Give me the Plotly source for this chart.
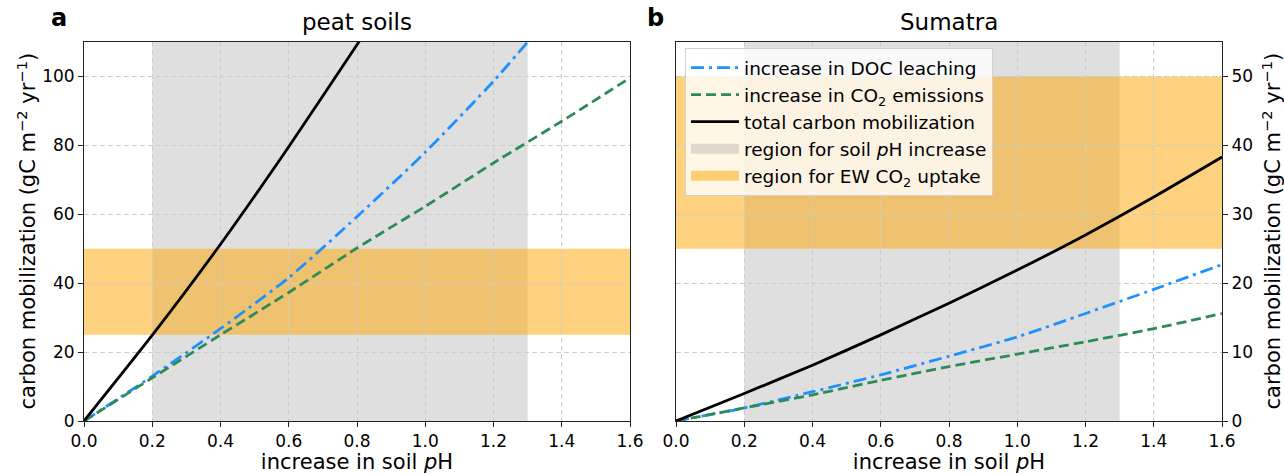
import plotly.graph_objects as go

# ---------------- data ----------------
ph_x = [0.0, 0.2, 0.4, 0.6, 0.8, 1.0, 1.2, 1.4, 1.6]

peat_total_x = [0.0, 0.2, 0.4, 0.6, 0.8, 0.81]
peat_total = [0.0, 24.9, 51.3, 79.6, 109.2, 110.7]
peat_doc_x = [0.0, 0.2, 0.4, 0.6, 0.8, 1.0, 1.2, 1.3]
peat_doc = [0.0, 13.0, 26.8, 41.6, 59.3, 78.0, 98.6, 110.0]
peat_co2 = [0.0, 12.5, 25.0, 37.3, 50.2, 62.3, 74.9, 87.0, 99.6]

sum_total = [0.0, 4.0, 8.1, 12.5, 17.1, 21.9, 27.0, 32.5, 38.3]
sum_doc = [0.0, 1.9, 4.25, 6.7, 9.4, 12.2, 15.6, 19.1, 22.7]
sum_co2 = [0.0, 1.9, 3.8, 5.9, 7.9, 9.7, 11.5, 13.4, 15.6]

ph_region = [0.2, 1.3]
ew_region_peat = [25, 50]
ew_region_sum = [25, 50]

x_ticks = [0.0, 0.2, 0.4, 0.6, 0.8, 1.0, 1.2, 1.4, 1.6]
peat_yticks = [0, 20, 40, 60, 80, 100]
sum_yticks = [0, 10, 20, 30, 40, 50]

names = ["increase in DOC leaching", "increase in CO<sub>2</sub> emissions",
         "total carbon mobilization", "region for soil <i>p</i>H increase",
         "region for EW CO<sub>2</sub> uptake"]

# ---------------- style ----------------
FONT = "DejaVu Sans"
BLUE = "#1E90FF"
GREEN = "#2E8B57"
GRAY_FILL = "rgba(128,128,128,0.25)"
ORANGE_FILL = "rgba(255,165,0,0.5)"
GRID = "#cccccc"

fig = go.Figure()

def add_lines(xref, yref, total_x, total, doc_x, doc, co2_x, co2, legend):
    fig.add_trace(go.Scatter(x=doc_x, y=doc, mode="lines", xaxis=xref, yaxis=yref,
                             line=dict(color=BLUE, width=2.8, dash="13px,5px,3px,5px", shape="spline", smoothing=0.6),
                             name=names[0], showlegend=legend, legendrank=1))
    fig.add_trace(go.Scatter(x=co2_x, y=co2, mode="lines", xaxis=xref, yaxis=yref,
                             line=dict(color=GREEN, width=2.8, dash="10px,5px", shape="spline", smoothing=0.6),
                             name=names[1], showlegend=legend, legendrank=2))
    fig.add_trace(go.Scatter(x=total_x, y=total, mode="lines", xaxis=xref, yaxis=yref,
                             line=dict(color="black", width=2.8, shape="spline", smoothing=0.6),
                             name=names[2], showlegend=legend, legendrank=3))

add_lines("x", "y", peat_total_x, peat_total, peat_doc_x, peat_doc, ph_x, peat_co2, False)
add_lines("x2", "y2", ph_x, sum_total, ph_x, sum_doc, ph_x, sum_co2, True)

# legend-only entries for the shaded regions (wide patch via thick line)
fig.add_trace(go.Scatter(x=[None], y=[None], mode="lines", line=dict(color=GRAY_FILL, width=14),
                         xaxis="x2", yaxis="y2", name=names[3], legendrank=4))
fig.add_trace(go.Scatter(x=[None], y=[None], mode="lines", line=dict(color=ORANGE_FILL, width=14),
                         xaxis="x2", yaxis="y2", name=names[4], legendrank=5))

# regions (shapes below grid)
for xr, yr, ew in [("x", "y", ew_region_peat), ("x2", "y2", ew_region_sum)]:
    fig.add_shape(type="rect", xref=xr, yref=yr + " domain", x0=ph_region[0], x1=ph_region[1],
                  y0=0, y1=1, fillcolor=GRAY_FILL, line=dict(width=0), layer="below")
    fig.add_shape(type="rect", xref=xr + " domain", yref=yr, x0=0, x1=1,
                  y0=ew[0], y1=ew[1], fillcolor=ORANGE_FILL, line=dict(width=0), layer="below")

ax_common = dict(showline=True, linecolor="#222", linewidth=1, mirror=True,
                 ticks="outside", ticklen=5, tickwidth=1, tickcolor="#222",
                 showgrid=True, gridcolor=GRID, griddash="5px,3px", gridwidth=1,
                 zeroline=False, automargin=False,
                 tickfont=dict(family=FONT, size=17, color="black"))

YLABEL = "carbon mobilization (gC m<sup>−2</sup> yr<sup>−1</sup>)"
XLABEL = "increase in soil <i>p</i>H"
W, H = 1284, 474
ytop, ybot = 1 - 42 / H, 1 - 421 / H
ymid = (ytop + ybot) / 2
fig.update_layout(
    width=W, height=H, margin=dict(l=0, r=0, t=0, b=0, autoexpand=False),
    paper_bgcolor="white", plot_bgcolor="white",
    font=dict(family=FONT, color="black"),
    xaxis=dict(domain=[84 / W, 630 / W], range=[0, 1.6], tickvals=x_ticks,
               ticktext=[f"{v:.1f}" for v in x_ticks], anchor="y",
               title=dict(text=XLABEL, font=dict(size=21), standoff=2), **ax_common),
    yaxis=dict(domain=[ybot, ytop], range=[0, 110], tickvals=peat_yticks, anchor="x", **ax_common),
    xaxis2=dict(domain=[676 / W, 1222 / W], range=[0, 1.6], tickvals=x_ticks,
                ticktext=[f"{v:.1f}" for v in x_ticks], anchor="y2",
                title=dict(text=XLABEL, font=dict(size=21), standoff=2), **ax_common),
    yaxis2=dict(domain=[ybot, ytop], range=[0, 55], tickvals=sum_yticks, anchor="x2", side="right",
                **ax_common),
    legend=dict(x=685 / W, y=1 - 48 / H, xanchor="left", yanchor="top",
                bgcolor="rgba(255,255,255,0.8)", bordercolor="#d0d0d0", borderwidth=1,
                font=dict(family=FONT, size=18.5), traceorder="normal", tracegroupgap=0,
                itemwidth=48),
    annotations=[
        dict(text=YLABEL, x=26 / W, y=ymid, xref="paper", yref="paper", textangle=-90,
             xanchor="center", yanchor="middle", showarrow=False, font=dict(size=21)),
        dict(text=YLABEL, x=1271 / W, y=ymid, xref="paper", yref="paper", textangle=-90,
             xanchor="center", yanchor="middle", showarrow=False, font=dict(size=21)),
        dict(text="peat soils", x=(84 + 630) / 2 / W, y=1 - 37 / H, xref="paper", yref="paper",
             xanchor="center", yanchor="bottom", showarrow=False, font=dict(size=23)),
        dict(text="Sumatra", x=(676 + 1222) / 2 / W, y=1 - 37 / H, xref="paper", yref="paper",
             xanchor="center", yanchor="bottom", showarrow=False, font=dict(size=23)),
        dict(text="<b>a</b>", x=59 / W, y=1 - 34 / H, xref="paper", yref="paper",
             xanchor="center", yanchor="bottom", showarrow=False, font=dict(size=24)),
        dict(text="<b>b</b>", x=656 / W, y=1 - 34 / H, xref="paper", yref="paper",
             xanchor="center", yanchor="bottom", showarrow=False, font=dict(size=24)),
    ],
)

fig.write_html("out.html", config={"displayModeBar": False},
               post_script="document.body.style.margin='0px';")
